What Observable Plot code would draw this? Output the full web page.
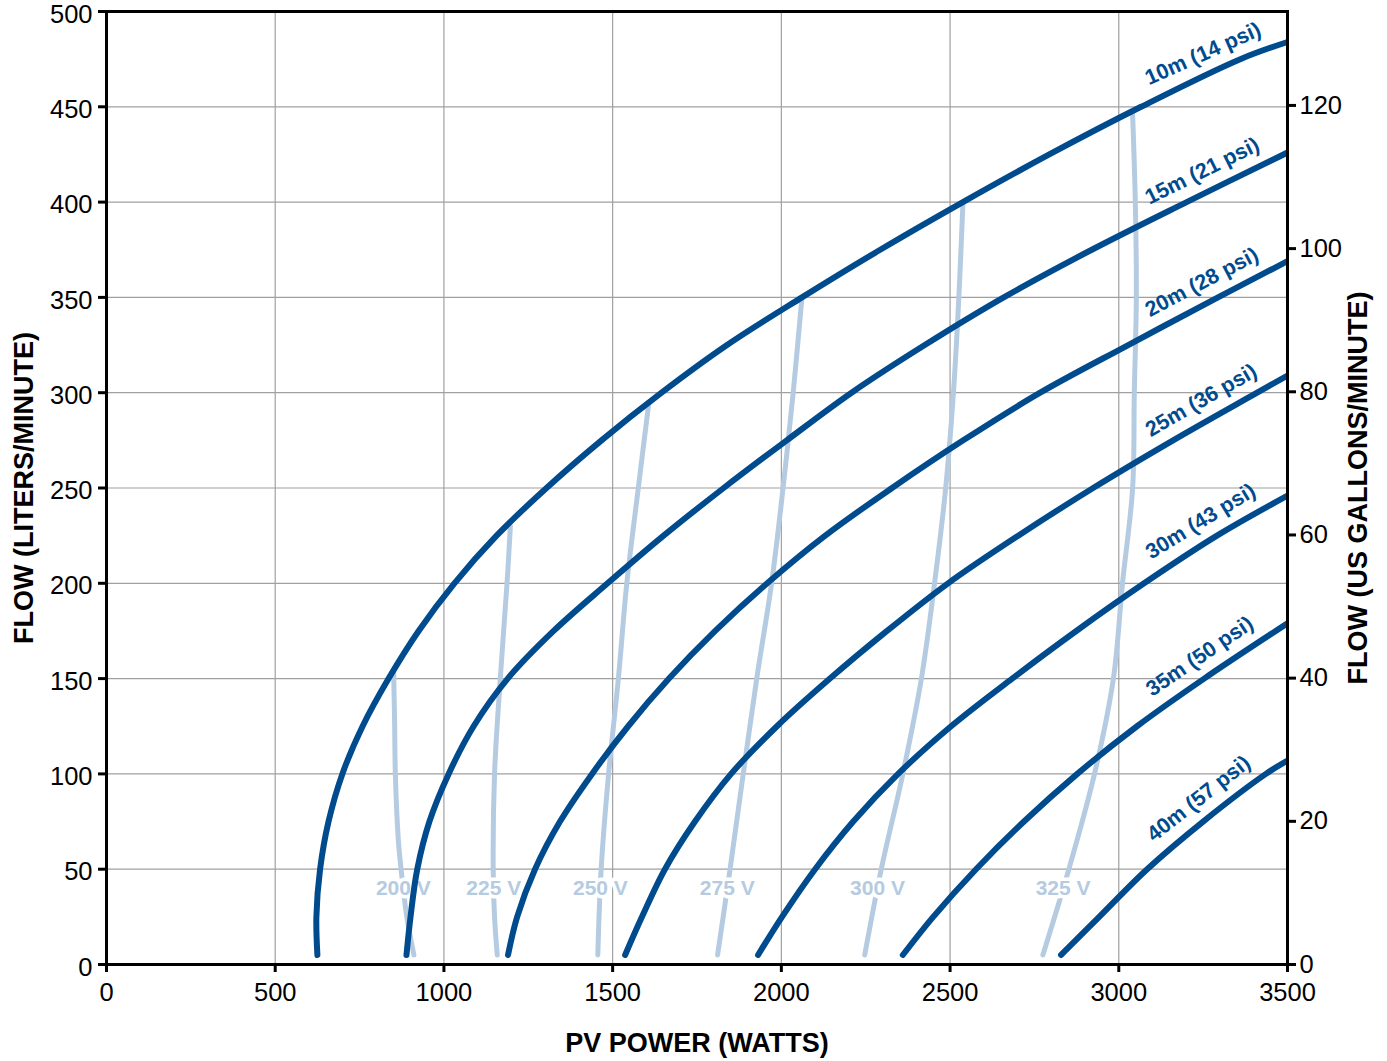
<!DOCTYPE html>
<html>
<head>
<meta charset="utf-8">
<script src="https://cdn.jsdelivr.net/npm/d3@7"></script>
<script src="https://cdn.jsdelivr.net/npm/@observablehq/plot@0.6"></script>
<style>
  body { margin: 0; background: #ffffff; }
</style>
</head>
<body>
<div id="chart"></div>
<script>
// ---------- tick labels ----------
const xTicks = [0, 500, 1000, 1500, 2000, 2500, 3000, 3500];
const yTicks = [0, 50, 100, 150, 200, 250, 300, 350, 400, 450, 500];
const gpmTicks = [0, 20, 40, 60, 80, 100, 120];
const litersPerGallonOnAxis = 3.756; // as drawn on the right axis

// ---------- head curves: [PV power W, flow L/min] ----------
const headNames = ["10m (14 psi)", "15m (21 psi)", "20m (28 psi)", "25m (36 psi)", "30m (43 psi)", "35m (50 psi)", "40m (57 psi)"];
const head10 = [[625,5],[622,25],[633,50],[658,75],[699,100],[759,125],[836,150],[925,175],[1031,200],[1156,225],[1304,250],[1467,275],[1645,300],[1839,325],[2061,350],[2293,375],[2538,400],[2794,425],[3066,450],[3360,475],[3500,484]];
const head15 = [[889,5],[901,25],[921,50],[957,75],[1014,100],[1088,125],[1189,150],[1325,175],[1485,200],[1651,225],[1829,250],[2016,275],[2208,300],[2425,325],[2659,350],[2920,375],[3201,400],[3500,426]];
const head20 = [[1190,5],[1217,25],[1270,50],[1344,75],[1439,100],[1546,125],[1667,150],[1804,175],[1958,200],[2130,225],[2328,250],[2539,275],[2767,300],[3028,325],[3294,350],[3500,369]];
const head25 = [[1537,5],[1587,25],[1655,50],[1744,75],[1851,100],[1987,125],[2144,150],[2313,175],[2494,200],[2702,225],[2924,250],[3161,275],[3410,300],[3500,309]];
const head30 = [[1931,5],[2002,25],[2100,50],[2213,75],[2346,100],[2503,125],[2684,150],[2874,175],[3075,200],[3291,225],[3500,246]];
const head35 = [[2360,5],[2450,25],[2577,50],[2719,75],[2877,100],[3054,125],[3253,150],[3500,179]];
const head40 = [[2829,5],[2942,25],[3084,50],[3250,75],[3436,100],[3500,107]];

// ---------- voltage lines: [PV power W, flow L/min] ----------
const voltNames = ["200 V", "225 V", "250 V", "275 V", "300 V", "325 V"];
const volt200 = [[911,5],[890,25],[873,50],[865,65],[856,100],[854,125],[851,154]];
const volt225 = [[1158,5],[1150,25],[1146,50],[1150,100],[1167,150],[1187,200],[1197,230]];
const volt250 = [[1456,5],[1466,50],[1488,100],[1517,150],[1542,200],[1576,250],[1606,293]];
const volt275 = [[1811,5],[1848,50],[1887,100],[1927,150],[1971,200],[2005,250],[2035,300],[2060,348]];
const volt300 = [[2247,5],[2296,50],[2360,100],[2415,150],[2454,200],[2487,250],[2510,300],[2526,350],[2538,399]];
const volt325 = [[2775,5],[2852,50],[2928,100],[2984,150],[3011,200],[3041,250],[3046,300],[3052,350],[3049,400],[3041,446]];

// ---------- layout & style ----------
const W = 1387, H = 1061;
const ML = 106, MR = 100, MT = 11, MB = 97;
const dark = "#004b8d";
const light = "#b5cbe1";
const font = "Helvetica, Arial, 'Liberation Sans', sans-serif";
const pxPerW = (W - ML - MR) / 3500;
const pxPerL = (H - MT - MB) / 500;

const heads = [head10, head15, head20, head25, head30, head35, head40];
const volts = [volt200, volt225, volt250, volt275, volt300, volt325];

const headRows = heads.flatMap((pts, k) => pts.map(([p, f]) => ({p, f, name: headNames[k]})));
const voltRows = volts.flatMap((pts, k) => pts.map(([p, f]) => ({p, f, name: voltNames[k]})));

function flowAt(pts, P) {
  const s = pts.slice().sort((a, b) => a[0] - b[0]);
  for (let i = 1; i < s.length; i++) {
    if (s[i][0] >= P) {
      const [p0, f0] = s[i - 1], [p1, f1] = s[i];
      return f0 + (f1 - f0) * (P - p0) / (p1 - p0);
    }
  }
  return s[s.length - 1][1];
}
function powerAt(pts, F) {
  for (let i = 1; i < pts.length; i++) {
    if (pts[i][1] >= F) {
      const [p0, f0] = pts[i - 1], [p1, f1] = pts[i];
      return p0 + (p1 - p0) * (F - f0) / (f1 - f0);
    }
  }
  return pts[pts.length - 1][0];
}

// head labels: offset along the upward normal of each curve near its right end
const headLabels = heads.map((pts, k) => {
  const P = 3275;
  const F = flowAt(pts, P);
  const theta = Math.atan2((flowAt(pts, 3480) - flowAt(pts, 3080)) * pxPerL, 400 * pxPerW);
  const d = 21;
  return {
    p: P - d * Math.sin(theta) / pxPerW,
    f: F + d * Math.cos(theta) / pxPerL,
    angle: -theta * 180 / Math.PI,
    name: headNames[k]
  };
});

// voltage labels where each voltage line crosses 40 L/min
const voltLabels = volts.map((pts, k) => ({p: powerAt(pts, 40), f: 40, name: voltNames[k]}));

const tickFont = 25.5;
const chart = Plot.plot({
  width: W,
  height: H,
  marginLeft: ML,
  marginRight: MR,
  marginTop: MT,
  marginBottom: MB,
  style: {fontFamily: font, background: "#ffffff", color: "#000000", overflow: "visible"},
  x: {domain: [0, 3500], label: null},
  y: {domain: [0, 500], label: null},
  marks: [
    Plot.gridX(xTicks.slice(1, -1), {stroke: "#a0a0a0", strokeOpacity: 1, strokeWidth: 1.2}),
    Plot.gridY(yTicks.slice(1, -1), {stroke: "#a0a0a0", strokeOpacity: 1, strokeWidth: 1.2}),
    Plot.line(voltRows, {x: "p", y: "f", z: "name", stroke: light, strokeWidth: 5, strokeLinecap: "round", curve: "catmull-rom"}),
    Plot.text(voltLabels, {x: "p", y: "f", text: "name", fill: light, stroke: "#ffffff", strokeWidth: 7, fontWeight: "bold", fontSize: 21}),
    Plot.line(headRows, {x: "p", y: "f", z: "name", stroke: dark, strokeWidth: 6, strokeLinecap: "round", curve: "catmull-rom", clip: true}),
    Plot.text(headLabels, {x: "p", y: "f", text: "name", rotate: "angle", fill: dark, fontWeight: "bold", fontSize: 21.5}),
    Plot.frame({stroke: "#000000", strokeWidth: 3}),
    // bottom axis
    Plot.axisX(xTicks, {anchor: "bottom", tickSize: 8, tickPadding: 10, strokeWidth: 3, fontSize: tickFont, tickFormat: d => String(d), label: null}),
    // left axis: ticks, then labels sitting slightly below each tick
    Plot.axisY(yTicks, {anchor: "left", tickSize: 8, strokeWidth: 3, fill: "none", label: null}),
    Plot.axisY(yTicks, {anchor: "left", tickSize: 0, tickPadding: 14, dy: 3, fontSize: tickFont, tickFormat: d => String(d), label: null}),
    // right axis in US gallons per minute
    Plot.axisY(gpmTicks.map(g => g * litersPerGallonOnAxis), {anchor: "right", tickSize: 8, tickPadding: 4, strokeWidth: 3, fontSize: tickFont, tickFormat: d => String(Math.round(d / litersPerGallonOnAxis)), label: null}),
    // axis titles
    Plot.text(["FLOW (LITERS/MINUTE)"], {frameAnchor: "left", textAnchor: "middle", lineAnchor: "middle", dx: -82, rotate: -90, fontWeight: "bold", fontSize: 27, fill: "#000000"}),
    Plot.text(["FLOW (US GALLONS/MINUTE)"], {frameAnchor: "right", textAnchor: "middle", lineAnchor: "middle", dx: 71, rotate: -90, fontWeight: "bold", fontSize: 27, fill: "#000000"}),
    Plot.text(["PV POWER (WATTS)"], {frameAnchor: "bottom", textAnchor: "middle", lineAnchor: "middle", dy: 79, fontWeight: "bold", fontSize: 27, fill: "#000000"})
  ]
});
document.getElementById("chart").appendChild(chart);
</script>
</body>
</html>
